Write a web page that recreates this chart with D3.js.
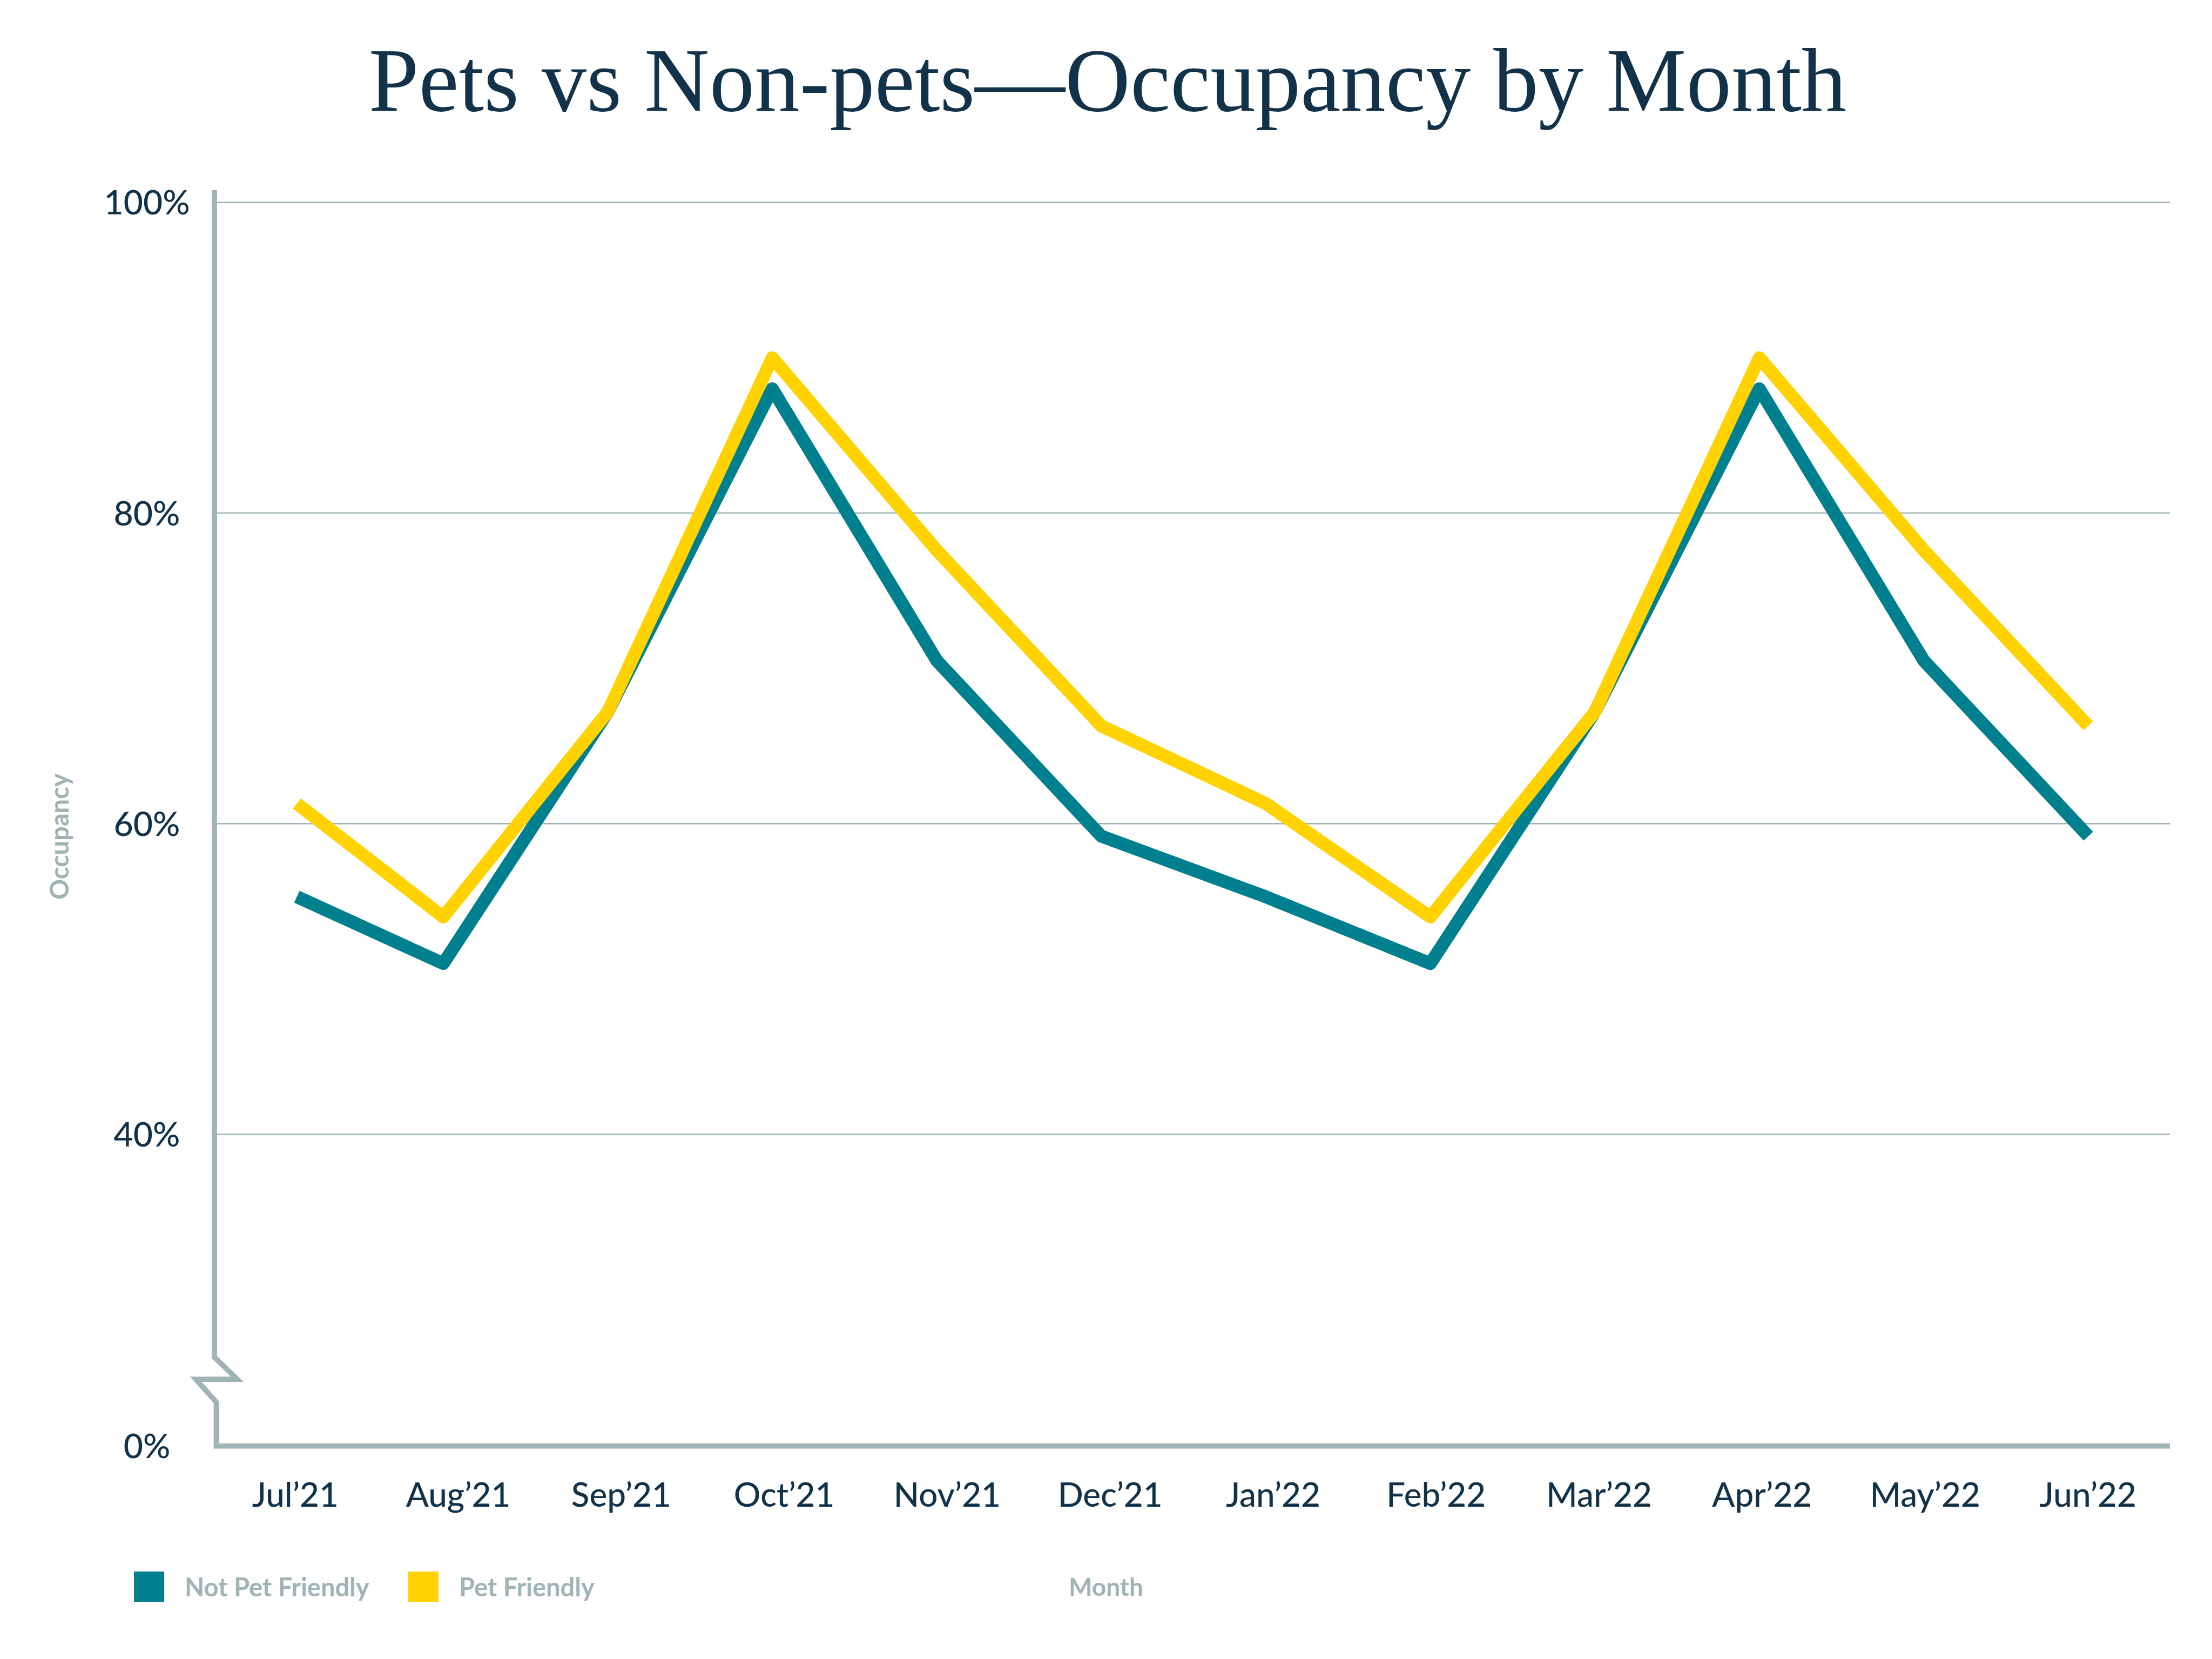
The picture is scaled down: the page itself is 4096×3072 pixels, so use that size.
<!DOCTYPE html>
<html>
<head>
<meta charset="utf-8">
<script src="https://cdn.jsdelivr.net/npm/d3@7"></script>
<style>
  html, body { margin: 0; padding: 0; background: #ffffff; }
  svg { display: block; }
</style>
</head>
<body>
<script>
// ---------------- data ----------------
const months = ["Jul\u201921","Aug\u201921","Sep\u201921","Oct\u201921","Nov\u201921","Dec\u201921",
                "Jan\u201922","Feb\u201922","Mar\u201922","Apr\u201922","May\u201922","Jun\u201922"];
// position of each reading along the month axis (in months; first reading sits just after the Jul mark)
const monthPos = [0.11, 1, 2, 3, 4, 5, 6, 7, 8, 9, 10, 11];
const notPetFriendly = [55.3, 51.0, 67.2, 88.0, 70.5, 59.2, 55.3, 51.0, 67.2, 88.0, 70.5, 59.2];
const petFriendly    = [61.3, 54.0, 67.2, 90.0, 77.6, 66.3, 61.3, 54.0, 67.2, 90.0, 77.6, 66.3];
const yTickValues = [0, 40, 60, 80, 100];
const gridValues  = [40, 60, 80, 100];
const seriesNames = ["Not Pet Friendly", "Pet Friendly"];
const titleText = "Pets vs Non-pets\u2014Occupancy by Month";
const xTitle = "Month";
const yTitle = "Occupancy";

// ---------------- layout ----------------
const W = 4096, H = 3072;
const navy = "#12324a", gray = "#a0b4b5";
const colors = ["#007f8f", "#ffd200"];
const sansFont = "Lato, 'Open Sans', sans-serif";

const svg = d3.select("body").append("svg")
  .attr("width", W).attr("height", H)
  .attr("viewBox", `0 0 ${W} ${H}`);
svg.append("rect").attr("width", W).attr("height", H).attr("fill", "#fff");

const axisX = 397, axisXLow = 400.6, axisTop = 352, plotRight = 4018;
const y = d3.scaleLinear().domain([0, 40, 100]).range([2677.6, 2100.6, 374.8]);
const xLine = d3.scaleLinear().domain([1, 11]).range([820.8, 3867]);
const xLabel = d3.scalePoint().domain(months).range([546.8, 3866.4]);

// title
svg.append("text")
  .attr("x", 2051).attr("y", 204.6)
  .attr("text-anchor", "middle")
  .attr("font-family", "'Liberation Serif', 'Times New Roman', serif")
  .attr("font-size", 167)
  .attr("fill", navy)
  .text(titleText);

// gridlines
svg.append("g").selectAll("line").data(gridValues).join("line")
  .attr("x1", axisX).attr("x2", plotRight)
  .attr("y1", d => y(d)).attr("y2", d => y(d))
  .attr("stroke", gray).attr("stroke-width", 2.5);

// y axis with break
const yb = y(0);
const axisPath = d3.path();
axisPath.moveTo(axisX, axisTop);
axisPath.lineTo(axisX, yb - 164.6);
axisPath.lineTo(axisX + 42.3, yb - 123.6);
axisPath.lineTo(axisX - 34.5, yb - 123.6);
axisPath.lineTo(axisXLow, yb - 81);
axisPath.lineTo(axisXLow, yb);
axisPath.lineTo(plotRight, yb);
svg.append("path")
  .attr("d", axisPath.toString())
  .attr("fill", "none")
  .attr("stroke", gray)
  .attr("stroke-width", 9.8)
  .attr("stroke-linejoin", "miter")
  .attr("stroke-miterlimit", 10);

// y tick labels
svg.append("g").selectAll("text").data(yTickValues).join("text")
  .attr("x", 272).attr("y", d => y(d))
  .attr("dy", "0.36em")
  .attr("text-anchor", "middle")
  .attr("font-family", sansFont).attr("font-weight", 500)
  .attr("font-size", 62.5)
  .attr("fill", navy)
  .text(d => d + "%");

// x tick labels
svg.append("g").selectAll("text").data(months).join("text")
  .attr("x", d => xLabel(d)).attr("y", 2790)
  .attr("text-anchor", "middle")
  .attr("font-family", sansFont).attr("font-weight", 500)
  .attr("font-size", 62)
  .attr("fill", navy)
  .text(d => d);

// lines
const line = d3.line()
  .x((d, i) => xLine(monthPos[i]))
  .y(d => y(d));
[notPetFriendly, petFriendly].forEach((s, k) => {
  svg.append("path")
    .attr("d", line(s))
    .attr("fill", "none")
    .attr("stroke", colors[k])
    .attr("stroke-width", 24)
    .attr("stroke-linejoin", "round")
    .attr("stroke-linecap", "butt");
});

// axis titles
svg.append("text")
  .attr("x", 2048).attr("y", 2955)
  .attr("text-anchor", "middle")
  .attr("font-family", sansFont).attr("font-weight", 700)
  .attr("font-size", 46)
  .attr("fill", gray)
  .text(xTitle);

svg.append("text")
  .attr("transform", "translate(127,1549) rotate(-90)")
  .attr("text-anchor", "middle")
  .attr("font-family", sansFont).attr("font-weight", 700)
  .attr("font-size", 47)
  .attr("fill", gray)
  .text(yTitle);

// legend
const legendX = [248, 756];
const lg = svg.append("g").selectAll("g").data(seriesNames).join("g")
  .attr("transform", (d, i) => `translate(${legendX[i]},2910)`);
lg.append("rect").attr("width", 56).attr("height", 56).attr("fill", (d, i) => colors[i]);
lg.append("text")
  .attr("x", 94).attr("y", 46)
  .attr("font-family", sansFont).attr("font-weight", 700)
  .attr("font-size", 47)
  .attr("fill", gray)
  .text(d => d);
</script>
</body>
</html>
